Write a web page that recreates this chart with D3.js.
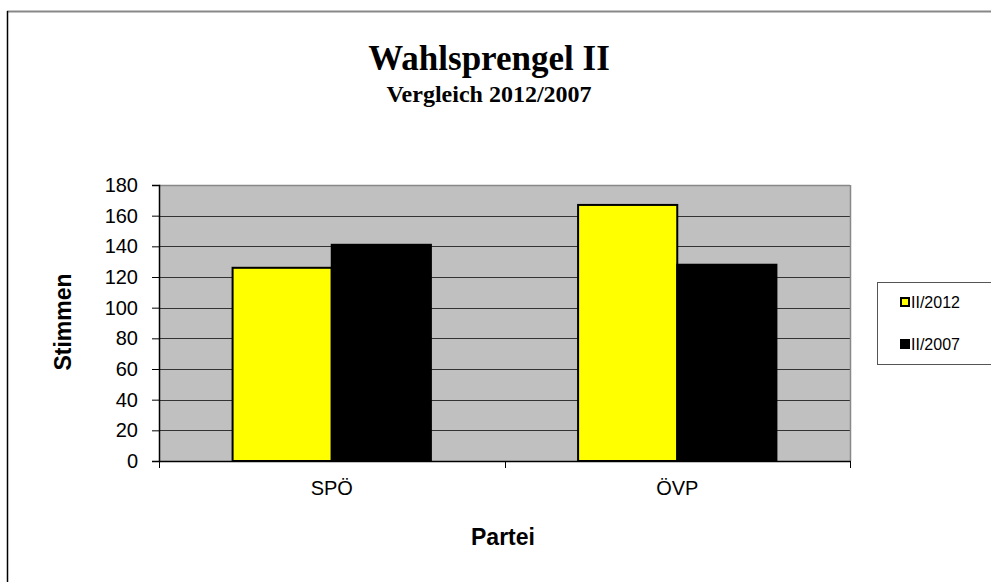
<!DOCTYPE html>
<html>
<head>
<meta charset="utf-8">
<script src="https://cdn.jsdelivr.net/npm/d3@7"></script>
<style>
  body { margin: 0; background: #fff; }
  svg { display: block; }
</style>
</head>
<body>
<svg id="chart" width="991" height="582"></svg>
<script>
// Chart data
const categories = ["SPÖ", "ÖVP"];
const seriesNames = ["II/2012", "II/2007"];
const values2012 = [126, 167];
const values2007 = [141, 128];
const yTicks = [0, 20, 40, 60, 80, 100, 120, 140, 160, 180];

const colors = ["#ffff00", "#000000"];
const sans = "Arial, 'Liberation Sans', sans-serif";
const serif = "'Liberation Serif', 'Times New Roman', serif";

const svg = d3.select("#chart");

// outer chart frame
svg.append("line").attr("x1", 7).attr("x2", 991).attr("y1", 11.5).attr("y2", 11.5)
    .attr("stroke", "#888").attr("stroke-width", 2);
svg.append("line").attr("x1", 7.5).attr("x2", 7.5).attr("y1", 11).attr("y2", 582)
    .attr("stroke", "#000").attr("stroke-width", 1.5);

// plot area
const plot = { left: 159, right: 850, top: 185, bottom: 461 };

const x0 = d3.scaleBand()
    .domain(categories)
    .range([plot.left, plot.right])
    .paddingInner(0.426)
    .paddingOuter(0.213);

const x1 = d3.scaleBand()
    .domain(seriesNames)
    .range([0, x0.bandwidth()]);

const y = d3.scaleLinear()
    .domain([0, 180])
    .range([plot.bottom, plot.top]);

const g = svg.append("g");

g.append("rect")
    .attr("x", plot.left).attr("y", plot.top)
    .attr("width", plot.right - plot.left).attr("height", plot.bottom - plot.top)
    .attr("fill", "#c0c0c0");

// gridlines
g.selectAll(".grid")
    .data(yTicks.filter(d => d > 0 && d < 180))
    .enter().append("line")
    .attr("x1", plot.left).attr("x2", plot.right)
    .attr("y1", d => Math.round(y(d)) + 0.5).attr("y2", d => Math.round(y(d)) + 0.5)
    .attr("stroke", "#333").attr("stroke-width", 1);

// top & right border of plot
g.append("line").attr("x1", plot.left).attr("x2", plot.right)
    .attr("y1", plot.top + 0.5).attr("y2", plot.top + 0.5)
    .attr("stroke", "#888").attr("stroke-width", 1.5);
g.append("line").attr("x1", plot.right + 0.5).attr("x2", plot.right + 0.5)
    .attr("y1", plot.top).attr("y2", plot.bottom)
    .attr("stroke", "#888").attr("stroke-width", 1.5);

// bars
const rows = categories.map((c, i) => ({
    cat: c,
    vals: [values2012[i], values2007[i]]
}));

const groups = g.selectAll(".grp")
    .data(rows)
    .enter().append("g")
    .attr("transform", d => `translate(${x0(d.cat)},0)`);

groups.selectAll("rect")
    .data(d => d.vals.map((v, j) => ({ name: seriesNames[j], value: v, j: j })))
    .enter().append("rect")
    .attr("x", d => x1(d.name))
    .attr("y", d => y(d.value))
    .attr("width", x1.bandwidth())
    .attr("height", d => y(0) - y(d.value))
    .attr("fill", d => colors[d.j])
    .attr("stroke", "#000")
    .attr("stroke-width", 2);

// y axis
const yAxis = g.append("g")
    .attr("transform", `translate(${plot.left},0)`)
    .call(d3.axisLeft(y).tickValues(yTicks).tickSize(7).tickPadding(14));
yAxis.select(".domain").attr("stroke", "#000").attr("stroke-width", 1.5);
yAxis.selectAll("text")
    .attr("font-family", sans)
    .attr("font-size", 20).attr("fill", "#000");

// x axis
const xAxis = g.append("g")
    .attr("transform", `translate(0,${plot.bottom})`)
    .call(d3.axisBottom(x0).tickSize(0).tickPadding(20));
xAxis.select(".domain").attr("stroke", "#000").attr("stroke-width", 1.5);
xAxis.selectAll("text")
    .attr("font-family", sans)
    .attr("font-size", 20).attr("fill", "#000");
// category separator ticks
g.selectAll(".xtick")
    .data([plot.left, (plot.left + plot.right) / 2, plot.right])
    .enter().append("line")
    .attr("x1", d => Math.round(d) + 0.5).attr("x2", d => Math.round(d) + 0.5)
    .attr("y1", plot.bottom).attr("y2", plot.bottom + 7)
    .attr("stroke", "#000");

// titles
svg.append("text")
    .attr("x", 489).attr("y", 70)
    .attr("text-anchor", "middle")
    .attr("font-family", serif)
    .attr("font-weight", "bold").attr("font-size", 35)
    .text("Wahlsprengel II");
svg.append("text")
    .attr("x", 489).attr("y", 102)
    .attr("text-anchor", "middle")
    .attr("font-family", serif)
    .attr("font-weight", "bold").attr("font-size", 24)
    .text("Vergleich 2012/2007");

svg.append("text")
    .attr("x", 503).attr("y", 545)
    .attr("text-anchor", "middle")
    .attr("font-family", sans)
    .attr("font-weight", "bold").attr("font-size", 23)
    .text("Partei");

svg.append("text")
    .attr("transform", "translate(71,322) rotate(-90)")
    .attr("text-anchor", "middle")
    .attr("font-family", sans)
    .attr("font-weight", "bold").attr("font-size", 23)
    .text("Stimmen");

// legend
const legend = svg.append("g");
legend.append("rect")
    .attr("x", 877.5).attr("y", 282.5).attr("width", 120).attr("height", 82)
    .attr("fill", "#fff").attr("stroke", "#555").attr("stroke-width", 1);

const items = legend.selectAll(".item")
    .data(seriesNames)
    .enter().append("g")
    .attr("transform", (d, i) => `translate(901,${302 + i * 42})`);
items.append("rect")
    .attr("x", 0).attr("y", -4).attr("width", 8).attr("height", 8)
    .attr("fill", (d, i) => colors[i])
    .attr("stroke", "#000").attr("stroke-width", 2);
items.append("text")
    .attr("x", 10).attr("y", 0).attr("dy", "0.36em")
    .attr("font-family", sans)
    .attr("font-size", 16)
    .text(d => d);
</script>
</body>
</html>
